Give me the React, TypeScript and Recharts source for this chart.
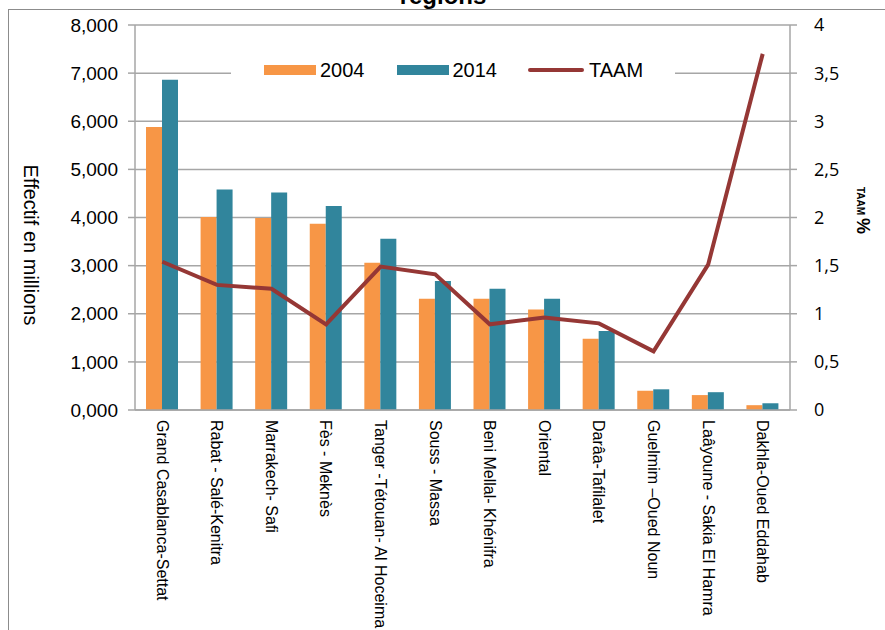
import { Bar, CartesianGrid, ComposedChart, Legend, Line, XAxis, YAxis } from "recharts";

const regions = [
  "Grand Casablanca-Settat",
  "Rabat - Salé-Kenitra",
  "Marrakech- Safi",
  "Fès - Meknès",
  "Tanger -Tétouan- Al Hoceima",
  "Souss - Massa",
  "Beni Mellal- Khénifra",
  "Oriental",
  "Darâa-Tafilalet",
  "Guelmim –Oued Noun",
  "Laâyoune - Sakia El Hamra",
  "Dakhla-Oued Eddahab",
];

// effectif en millions
const pop2004 = [5.88, 4.01, 3.99, 3.87, 3.06, 2.31, 2.31, 2.09, 1.48, 0.4, 0.31, 0.1];
const pop2014 = [6.86, 4.58, 4.52, 4.24, 3.56, 2.68, 2.52, 2.31, 1.64, 0.43, 0.37, 0.14];
// taux d'accroissement annuel moyen (%)
const taam = [1.54, 1.3, 1.26, 0.89, 1.49, 1.41, 0.89, 0.96, 0.9, 0.61, 1.51, 3.7];

const leftTicks = [0, 1, 2, 3, 4, 5, 6, 7, 8];
const rightTicks = [0, 0.5, 1, 1.5, 2, 2.5, 3, 3.5, 4];

const COLORS = {
  y2004: "#F79646",
  y2014: "#31859C",
  taam: "#953735",
  grid: "#a6a6a6",
};

const ARIAL = '"Liberation Sans", Arial, sans-serif';

const data = regions.map((name, i) => ({
  name,
  y2004: pop2004[i],
  y2014: pop2014[i],
  taam: taam[i],
}));

function RegionTick({ x, y, payload }: any) {
  return (
    <g transform={`translate(${x},${y + 10}) rotate(90)`}>
      <text textAnchor="start" dy="0.35em" fontSize={16} fontFamily={ARIAL} fill="#000">
        {payload.value}
      </text>
    </g>
  );
}

function ChartLegend() {
  const text = { fontFamily: ARIAL, fontSize: 20, color: "#000", lineHeight: "20px" };
  return (
    <div style={{ display: "flex", alignItems: "center", height: 30, paddingLeft: 33, background: "#fff" }}>
      <span style={{ width: 52, height: 10, background: COLORS.y2004 }} />
      <span style={{ ...text, marginLeft: 4, marginRight: 32 }}>2004</span>
      <span style={{ width: 52, height: 10, background: COLORS.y2014 }} />
      <span style={{ ...text, marginLeft: 4, marginRight: 31 }}>2014</span>
      <span style={{ width: 56, height: 4, borderRadius: 2, background: COLORS.taam }} />
      <span style={{ ...text, marginLeft: 5 }}>TAAM</span>
    </div>
  );
}

const fmtLeft = (v: number) => v.toFixed(3).replace(".", ",");
const fmtRight = (v: number) => String(v).replace(".", ",");

export default function App() {
  return (
    <div style={{ position: "absolute", left: 0, top: 0, width: 885, height: 630, overflow: "hidden", background: "#fff" }}>
      <div
        style={{
          position: "absolute",
          left: 8,
          top: 9,
          width: 900,
          height: 700,
          borderLeft: "1.5px solid #8c8c8c",
          borderTop: "1.5px solid #8c8c8c",
        }}
      />
      <ComposedChart
        width={885}
        height={630}
        data={data}
        margin={{ top: 25, right: 0, bottom: 0, left: 0 }}
        barGap={0}
        style={{ position: "absolute", left: 0, top: 0 }}
      >
        <CartesianGrid vertical={false} stroke={COLORS.grid} strokeWidth={1.5} yAxisId="left" />
        {/* legend box (30px) is counted into the bottom offset, so the axis band is 220 - 30 */}
        <XAxis
          dataKey="name"
          interval={0}
          height={190}
          tickLine={false}
          tickSize={0}
          tickMargin={0}
          tick={<RegionTick />}
          axisLine={{ stroke: COLORS.grid, strokeWidth: 1.5 }}
        />
        <YAxis
          yAxisId="left"
          width={135}
          domain={[0, 8]}
          ticks={leftTicks}
          tickFormatter={fmtLeft}
          tickSize={7}
          tickMargin={10}
          axisLine={{ stroke: COLORS.grid, strokeWidth: 1.5 }}
          tickLine={{ stroke: COLORS.grid, strokeWidth: 1.5 }}
          tick={{ fontSize: 19, fontFamily: ARIAL, fill: "#000" }}
          label={{
            content: () => (
              <text
                transform="translate(31,245) rotate(90)"
                textAnchor="middle"
                dy="0.35em"
                fontSize={20}
                fontFamily={ARIAL}
                fill="#000"
              >
                Effectif en millions
              </text>
            ),
          }}
        />
        <YAxis
          yAxisId="right"
          orientation="right"
          width={95}
          domain={[0, 4]}
          ticks={rightTicks}
          tickFormatter={fmtRight}
          tickSize={7}
          tickMargin={17}
          axisLine={{ stroke: COLORS.grid, strokeWidth: 1.5 }}
          tickLine={{ stroke: COLORS.grid, strokeWidth: 1.5 }}
          tick={{ fontSize: 18, fontFamily: '"Open Sans", sans-serif', fill: "#000" }}
          label={{
            content: () => (
              <text transform="translate(857,187) rotate(90)" textAnchor="start" fontFamily={ARIAL} fontWeight="bold" fill="#000">
                <tspan fontSize={10}>TAAM </tspan>
                <tspan fontSize={18}>%</tspan>
              </text>
            ),
          }}
        />
        <Legend
          content={() => <ChartLegend />}
          wrapperStyle={{ position: "absolute", left: 231, top: 55, width: 444, height: 30 }}
        />
        <Bar yAxisId="left" dataKey="y2004" name="2004" fill={COLORS.y2004} barSize={16} isAnimationActive={false} />
        <Bar yAxisId="left" dataKey="y2014" name="2014" fill={COLORS.y2014} barSize={16} isAnimationActive={false} />
        <Line
          yAxisId="right"
          type="linear"
          dataKey="taam"
          name="TAAM"
          stroke={COLORS.taam}
          strokeWidth={4}
          dot={false}
          isAnimationActive={false}
        />
      </ComposedChart>
      <svg width={885} height={30} style={{ position: "absolute", left: 0, top: 0 }}>
        <text x={443} y={4} textAnchor="middle" fontSize={24} fontWeight="bold" fontFamily={ARIAL} fill="#000">
          régions
        </text>
      </svg>
    </div>
  );
}
